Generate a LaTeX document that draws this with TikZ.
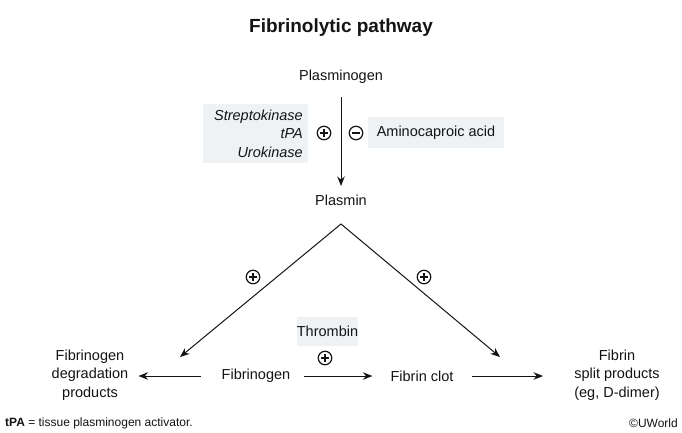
\documentclass[tikz,border=0pt]{standalone}
\usepackage{fontspec}
\setmainfont{Liberation Sans}
\usetikzlibrary{arrows.meta}
\definecolor{boxfill}{HTML}{EEF2F5}
\definecolor{ink}{HTML}{141414}
\begin{document}
\begin{tikzpicture}[x=1pt,y=-1pt,
  lbl/.style={font=\fontsize{14.5}{18.5}\selectfont, text=ink, inner sep=0pt, align=center},
  arr/.style={draw=ink, line width=1pt, -{Stealth[length=9.5pt,width=7.5pt]}},
  shadebox/.style={fill=boxfill, inner sep=0pt},
  signc/.style={circle, draw=ink, line width=1.2pt, minimum size=13.5pt, inner sep=0pt},
  plusc/.pic={\node[signc] (-c) {};
    \draw[ink, line width=1.3pt] (-3.6,0) -- (3.6,0) (0,-3.6) -- (0,3.6);},
  minusc/.pic={\node[signc] (-c) {};
    \draw[ink, line width=1.3pt] (-3.6,0) -- (3.6,0);}
]
\useasboundingbox[fill=white] (0,0) rectangle (682,432);

\node[font=\fontsize{19}{22}\selectfont\bfseries, text=ink] (title) at (341,28) {Fibrinolytic pathway};

\node[lbl] (plgn) at (341,77) {Plasminogen};
\node[lbl] (plsn) at (341,200) {Plasmin};
\coordinate (vtop) at (341,97);
\coordinate (vbot) at (341,186);
\draw[arr] (vtop) -- (vbot);

\node[shadebox, minimum width=105pt, minimum height=59pt] (lbox) at (255.5,133.5) {};
\node[lbl, align=right, anchor=east, font=\fontsize{14.5}{18.5}\selectfont\itshape] (act) at (303,133.5) {Streptokinase\\tPA\\Urokinase};
\pic (pa) at (324,133) {plusc};
\pic (mi) at (356,133) {minusc};
\node[shadebox, minimum width=136pt, minimum height=31pt] (rbox) at (436,132.5) {};
\node[lbl] (amino) at (436,132.5) {Aminocaproic acid};

\coordinate (apex) at (341,224);
\node[lbl] (fdp) at (90,375) {Fibrinogen\\degradation\\products};
\node[lbl] (fgn) at (256,376) {Fibrinogen};
\node[lbl] (clot) at (422,376) {Fibrin clot};
\node[lbl] (fsp) at (617,375) {Fibrin\\split products\\(eg, D-dimer)};
\coordinate (ltip) at (180,357);
\coordinate (rtip) at (500,357);
\draw[draw=ink, line width=1pt, line join=miter, {Stealth[length=9.5pt,width=7.5pt]}-{Stealth[length=9.5pt,width=7.5pt]}] (ltip) -- (apex) -- (rtip);
\pic (pl) at (253,277) {plusc};
\pic (pr) at (424,277) {plusc};

\draw[arr] ([xshift=-21pt]fgn.west) -- ([xshift=10pt]fdp.east |- fgn.west);
\draw[arr] ([xshift=14pt]fgn.east) -- ([xshift=-18pt]clot.west);
\draw[arr] ([xshift=18pt]clot.east) -- (543,376) coordinate (fsptip);

\node[shadebox, minimum width=61pt, minimum height=29pt] (tbox) at (327.5,331.5) {};
\node[lbl] (thr) at (327.5,331.5) {Thrombin};
\pic (pt) at (325,358) {plusc};

\node[anchor=west, font=\fontsize{12}{14}\selectfont, text=ink, inner sep=0pt] (foot) at (5,423) {\textbf{tPA} = tissue plasminogen activator.};
\node[anchor=east, font=\fontsize{12}{14}\selectfont, text=ink, inner sep=0pt] (copy) at (678,423) {©UWorld};
\end{tikzpicture}
\end{document}
